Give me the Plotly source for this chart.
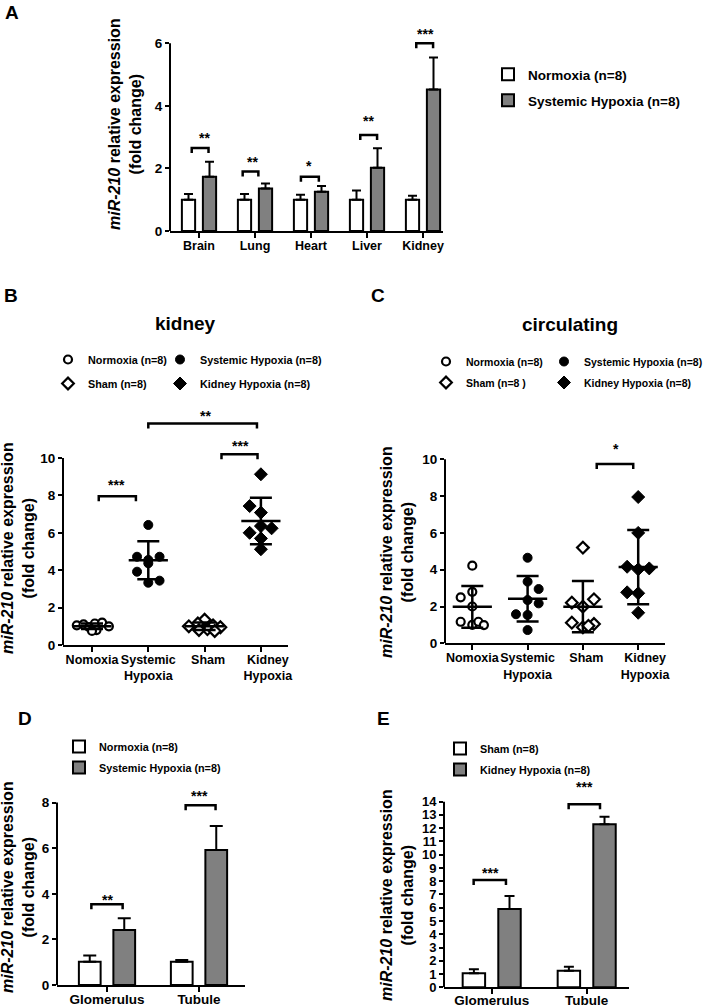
import plotly.graph_objects as go

W, H = 709, 1008
FONT = "Arial, Liberation Sans, sans-serif"
GRAY = "#808080"
YTITLE = "<b><i>miR-210</i> relative expression</b><br><b>(fold change)</b>"
NB = "\u00a0"

# ---------------- Panel A data ----------------
a_organs = ["Brain", "Lung", "Heart", "Liver", "Kidney"]
a_norm = [1.0, 1.0, 1.0, 1.0, 1.0]
a_norm_err = [0.18, 0.18, 0.16, 0.29, 0.13]
a_hyp = [1.73, 1.36, 1.25, 2.02, 4.52]
a_hyp_err = [0.48, 0.16, 0.19, 0.62, 1.02]
a_sig = ["**", "**", "*", "**", "***"]
# bracket / star positions relative to each category
a_br_x0 = [-0.13, -0.22, -0.18, -0.12, -0.12]
a_br_x1 = [0.17, 0.06, 0.14, 0.18, 0.18]
a_br_y = [2.65, 1.9, 1.73, 3.07, 6.0]
a_star_x = [0.1, -0.05, -0.03, 0.03, 0.05]
a_star_y = [3.07, 2.3, 2.17, 3.6, 6.4]

# ---------------- Panel B data (kidney) ----------------
b_groups = ["Nomoxia", "Systemic<br>Hypoxia", "Sham", "Kidney<br>Hypoxia"]
b_label_pad = [0, 0, 2, 4]
b_norm = [1.05, 1.1, 0.95, 1.15, 0.8, 1.2, 0.75, 1.0]
b_norm_jit = [-0.27, -0.15, -0.05, 0.05, 0.08, 0.18, 0.0, 0.3]
b_sh = [6.42, 4.72, 4.72, 4.55, 4.37, 3.92, 3.44, 3.33]
b_sh_jit = [0, -0.2, 0.2, 0, 0, -0.2, 0.2, 0]
b_sham = [1.35, 1.15, 1.05, 1.0, 0.95, 0.85, 0.8, 0.75]
b_sham_jit = [0, -0.12, 0.15, -0.28, 0.28, 0.05, -0.1, 0.18]
b_kh = [9.13, 7.43, 7.08, 6.36, 6.24, 6.0, 5.7, 5.12]
b_kh_jit = [0, -0.2, 0, 0, 0.19, -0.2, 0, 0]
b_mean = [1.0, 4.53, 1.0, 6.63]
b_sd = [0.15, 1.02, 0.2, 1.24]
b_sig = ["***", "**", "***"]
b_br_x0 = [0.12, 1.0, 2.3]
b_br_x1 = [0.78, 2.93, 2.94]
b_br_y = [7.95, 11.85, 10.2]
b_star_x = [0.44, 2.02, 2.64]
b_star_y = [8.73, 12.42, 10.82]

# ---------------- Panel C data (circulating) ----------------
c_label_pad = [0, 0, 2, 4]
c_norm = [4.22, 2.8, 2.5, 2.0, 1.17, 1.0, 1.17, 0.99]
c_norm_jit = [0, 0, -0.21, 0, -0.21, 0, 0.11, 0.21]
c_sh = [4.65, 3.35, 2.95, 2.35, 2.17, 1.58, 1.54, 0.72]
c_sh_jit = [0, 0, 0.2, 0, 0.2, -0.21, 0, 0]
c_sham = [5.2, 2.39, 2.21, 1.99, 1.12, 1.05, 0.87, 0.95]
c_sham_jit = [0, 0.2, -0.2, 0, -0.2, 0.2, 0, 0.1]
c_kh = [7.95, 6.0, 4.16, 4.02, 4.07, 2.77, 2.72, 1.66]
c_kh_jit = [0, 0, -0.2, 0, 0.2, -0.2, 0, 0]
c_mean = [1.98, 2.42, 1.99, 4.14]
c_sd = [1.14, 1.24, 1.39, 2.02]
c_sig = ["*"]
c_br_x0 = [2.25]
c_br_x1 = [2.91]
c_br_y = [9.75]
c_star_x = [2.6]
c_star_y = [10.74]

# ---------------- Panel D data ----------------
d_cats = ["Glomerulus", "Tubule"]
d_norm = [1.02, 1.02]
d_norm_err = [0.27, 0.08]
d_hyp = [2.41, 5.92]
d_hyp_err = [0.52, 1.05]
d_sig = ["**", "***"]
d_br_x0 = [-0.17, -0.145]
d_br_x1 = [0.17, 0.18]
d_br_y = [3.54, 7.88]
d_star_x = [0.0, 0.01]
d_star_y = [3.87, 8.41]

# ---------------- Panel E data ----------------
e_cats = ["Glomerulus", "Tubule"]
e_sham = [1.05, 1.25]
e_sham_err = [0.31, 0.3]
e_kh = [5.9, 12.3]
e_kh_err = [0.99, 0.57]
e_sig = ["***", "***"]
e_br_x0 = [-0.19, -0.19]
e_br_x1 = [0.15, 0.14]
e_br_y = [8.1, 13.8]
e_star_x = [-0.01, -0.02]
e_star_y = [8.85, 15.33]

fig = go.Figure()
layout = {}
shapes = []
annotations = []


def sfx(n):
    return "" if n == 1 else str(n)


def label(c, pad=0):
    return "<br>".join(f"<b>{NB * pad}{part}</b>" for part in c.split("<br>"))


def setup_axes(n, xpx, x_tick0_px, x_step_px, y0_px, ppu, ymax, ytop_tick, ystep,
               cats, xfont, yfont, pads=None, standoff=-3):
    s = sfx(n)
    pads = pads or [0] * len(cats)
    xr = [(xpx[0] - x_tick0_px) / x_step_px, (xpx[1] - x_tick0_px) / x_step_px]
    top_px = y0_px - ymax * ppu
    yvals = [v * ystep for v in range(int(round(ytop_tick / ystep)) + 1)]
    layout["xaxis" + s] = dict(
        domain=[xpx[0] / W, xpx[1] / W], range=xr, anchor="y" + s,
        tickmode="array", tickvals=list(range(len(cats))),
        ticktext=[label(c, p) for c, p in zip(cats, pads)], tickangle=0,
        ticklabelstandoff=standoff,
        showline=True, linecolor="black", linewidth=2, ticks="outside",
        ticklen=5, tickwidth=2, tickcolor="black", showgrid=False, zeroline=False,
        tickfont=dict(family=FONT, size=xfont, color="black"),
        fixedrange=True)
    layout["yaxis" + s] = dict(
        domain=[1 - y0_px / H, 1 - top_px / H], range=[0, ymax], anchor="x" + s,
        tickmode="array", tickvals=yvals, ticktext=[f"<b>{v}</b>" for v in yvals],
        showline=False, ticks="outside", ticklen=4, tickwidth=1.5, tickcolor="black",
        showgrid=False, zeroline=False,
        tickfont=dict(family=FONT, size=yfont, color="black"),
        fixedrange=True)
    shapes.append(dict(type="line", xref="x" + s + " domain", yref="y" + s,
                       x0=0, x1=0, y0=0, y1=ytop_tick,
                       line=dict(color="black", width=2)))


def add_brackets(n, base, x0s, x1s, ys, sigs, sx, sy, star_size=14):
    s = sfx(n)
    for b, x0, x1, y in zip(base, x0s, x1s, ys):
        shapes.append(dict(type="path", xref="x" + s, yref="y" + s,
                           ysizemode="pixel", yanchor=y,
                           path=f"M{b + x0},-5 V0 H{b + x1} V-5",
                           line=dict(color="black", width=2.5)))
    for b, t, x, y in zip(base, sigs, sx, sy):
        annotations.append(dict(text=t, x=b + x, y=y, xref="x" + s, yref="y" + s,
                                showarrow=False, yanchor="middle", yshift=-3,
                                font=dict(family=FONT, size=star_size, color="black", weight="bold")))


def add_bars(n, cats, m1, e1, m2, e2, names, legend, capw):
    s = sfx(n)
    idx = list(range(len(cats)))
    fig.add_trace(go.Bar(
        x=idx, y=m1, name=names[0], xaxis="x" + s, yaxis="y" + s,
        marker=dict(color="white", line=dict(color="black", width=2)),
        error_y=dict(type="data", array=e1, arrayminus=[0] * len(idx), symmetric=False,
                     color="black", thickness=2, width=capw),
        legend=legend, legendgroup=legend + "a"))
    fig.add_trace(go.Bar(
        x=idx, y=m2, name=names[1], xaxis="x" + s, yaxis="y" + s,
        marker=dict(color=GRAY, line=dict(color="black", width=2)),
        error_y=dict(type="data", array=e2, arrayminus=[0] * len(idx), symmetric=False,
                     color="black", thickness=2, width=capw),
        legend=legend, legendgroup=legend + "b"))


def add_dots(n, vals_list, jit_list, means, sds, names, legends):
    s = sfx(n)
    styles = [
        dict(symbol="circle", size=8, color="white", line=dict(color="black", width=2.2)),
        dict(symbol="circle", size=9, color="black", line=dict(color="black", width=1)),
        dict(symbol="diamond", size=9, color="white", line=dict(color="black", width=2.2)),
        dict(symbol="diamond", size=10, color="black", line=dict(color="black", width=1)),
    ]
    order = [0, 2, 1, 3]
    for g in order:
        vals, jit = vals_list[g], jit_list[g]
        fig.add_trace(go.Scatter(
            x=[g + j for j in jit], y=vals, mode="markers", name=names[g],
            marker=styles[g], xaxis="x" + s, yaxis="y" + s,
            legend=legends[g], legendgroup=f"{n}-{g}", cliponaxis=False))
    fig.add_trace(go.Scatter(
        x=list(range(len(means))), y=means, mode="markers", showlegend=False,
        marker=dict(symbol="line-ew", size=28, color="black",
                    line=dict(color="black", width=2.5)),
        error_y=dict(type="data", array=sds, color="black", thickness=2.5, width=11),
        xaxis="x" + s, yaxis="y" + s, cliponaxis=False))


def legend_def(left_px, top_px, size, gap):
    return dict(x=left_px / W, y=1 - top_px / H, xref="paper", yref="paper",
                xanchor="left", yanchor="top", orientation="v",
                font=dict(family=FONT, size=size, color="black", weight="bold"),
                bgcolor="rgba(0,0,0,0)", borderwidth=0, tracegroupgap=gap,
                traceorder="grouped", itemclick=False, itemdoubleclick=False)


# ---- Panel A ----
setup_axes(1, (170, 443), 199, 56, 231, 31.3, 7.2, 6, 2, a_organs, 12.5, 13.5)
add_bars(1, a_organs, a_norm, a_norm_err, a_hyp, a_hyp_err,
         ["Normoxia (n=8)", "Systemic Hypoxia (n=8)"], "legend", 4.5)
add_brackets(1, range(5), a_br_x0, a_br_x1, a_br_y, a_sig, a_star_x, a_star_y)

# ---- Panel B ----
setup_axes(2, (63, 288), 92, 56.3, 645, 18.7, 12.8, 10, 2, b_groups, 12.5, 13.5, b_label_pad)
add_dots(2, [b_norm, b_sh, b_sham, b_kh], [b_norm_jit, b_sh_jit, b_sham_jit, b_kh_jit],
         b_mean, b_sd,
         ["Normoxia (n=8)", "Systemic Hypoxia (n=8)", "Sham (n=8)", "Kidney Hypoxia (n=8)"],
         ["legend2", "legend3", "legend2", "legend3"])
add_brackets(2, [0, 0, 0], b_br_x0, b_br_x1, b_br_y, b_sig, b_star_x, b_star_y)

# ---- Panel C ----
setup_axes(3, (445, 665), 472.3, 55.3, 643.3, 18.4, 11.0, 10, 2, b_groups, 12.5, 13.5, c_label_pad)
add_dots(3, [c_norm, c_sh, c_sham, c_kh], [c_norm_jit, c_sh_jit, c_sham_jit, c_kh_jit],
         c_mean, c_sd,
         ["Normoxia (n=8)", "Systemic Hypoxia (n=8)", "Sham (n=8 )", "Kidney Hypoxia (n=8)"],
         ["legend4", "legend5", "legend4", "legend5"])
add_brackets(3, [0], c_br_x0, c_br_x1, c_br_y, c_sig, c_star_x, c_star_y)

# ---- Panel D ----
setup_axes(4, (57, 245), 107, 92, 985, 22.8, 8.6, 8, 2, d_cats, 13.5, 13.5, None, -4)
add_bars(4, d_cats, d_norm, d_norm_err, d_hyp, d_hyp_err,
         ["Normoxia (n=8)", "Systemic Hypoxia (n=8)"], "legend6", 6.5)
add_brackets(4, range(2), d_br_x0, d_br_x1, d_br_y, d_sig, d_star_x, d_star_y)

# ---- Panel E ----
setup_axes(5, (444, 629), 491.7, 95, 987.3, 13.26, 15.6, 14, 1, e_cats, 13.5, 13, None, -6)
add_bars(5, e_cats, e_sham, e_sham_err, e_kh, e_kh_err,
         ["Sham (n=8)", "Kidney Hypoxia (n=8)"], "legend7", 5)
add_brackets(5, range(2), e_br_x0, e_br_x1, e_br_y, e_sig, e_star_x, e_star_y)

# ---- Text: panel letters, titles, y titles ----
for letter, xp, yp in [("A", 12, 13), ("B", 11, 295), ("C", 378, 295), ("D", 25, 718), ("E", 383, 718)]:
    annotations.append(dict(text=f"<b>{letter}</b>", x=xp / W, y=1 - yp / H, xref="paper", yref="paper",
                            showarrow=False, xanchor="center", yanchor="middle",
                            font=dict(family=FONT, size=19, color="black")))
for t, xp, yp in [("kidney", 185, 323), ("circulating", 570, 325)]:
    annotations.append(dict(text=f"<b>{t}</b>", x=xp / W, y=1 - yp / H, xref="paper", yref="paper",
                            showarrow=False, xanchor="center", yanchor="middle",
                            font=dict(family=FONT, size=19, color="black")))
for xp, yp in [(125, 124), (18, 548), (397, 552), (18, 887), (397, 895)]:
    annotations.append(dict(text=YTITLE, x=xp / W, y=1 - yp / H, xref="paper", yref="paper",
                            showarrow=False, xanchor="center", yanchor="middle", textangle=-90,
                            font=dict(family=FONT, size=16, color="black")))

layout.update(
    width=W, height=H, autosize=False,
    margin=dict(l=0, r=0, t=0, b=0, autoexpand=False),
    paper_bgcolor="white", plot_bgcolor="white",
    barmode="group", bargap=0.25, bargroupgap=0.37,
    shapes=shapes, annotations=annotations,
    legend=legend_def(488, 59, 13.5, 5.5),
    legend2=legend_def(48, 345, 10.8, 5),
    legend3=legend_def(160, 345, 10.8, 5),
    legend4=legend_def(426, 347, 10.5, 2),
    legend5=legend_def(544, 347, 10.5, 2),
    legend6=legend_def(59, 732, 10.8, 2),
    legend7=legend_def(440, 734, 10.8, 2),
)
fig.update_layout(**layout)
fig.write_html("out.html", config={"displayModeBar": False},
               post_script="document.body.style.margin='0';document.body.style.overflow='hidden';")
